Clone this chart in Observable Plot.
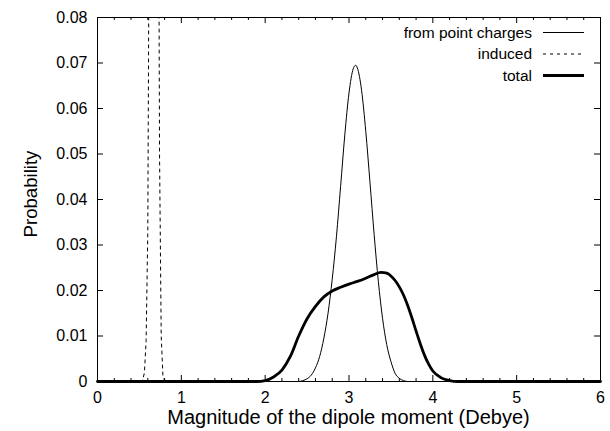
<!DOCTYPE html>
<html>
<head>
<meta charset="utf-8">
<script src="https://cdn.jsdelivr.net/npm/d3@7"></script>
<script src="https://cdn.jsdelivr.net/npm/@observablehq/plot@0.6"></script>
<style>
html, body { margin: 0; padding: 0; background: #fff; }
#chart svg { display: block; }
</style>
</head>
<body>
<div id="chart"></div>
<script>
// ---- data ----
const pointChargeX = [0, 2.30, 2.40, 2.45, 2.50, 2.55, 2.60, 2.65, 2.70, 2.75, 2.80, 2.85, 2.90, 2.95, 3.00, 3.05, 3.08, 3.10, 3.15, 3.20, 3.25, 3.30, 3.35, 3.40, 3.45, 3.50, 3.55, 3.60, 3.65, 3.70, 6];
const pointChargeY = [0, 0, 0.0000, 0.0002, 0.0006, 0.0014, 0.0030, 0.0055, 0.0095, 0.0150, 0.0225, 0.0318, 0.0429, 0.0542, 0.0634, 0.0687, 0.0695, 0.0689, 0.0640, 0.0550, 0.0438, 0.0323, 0.0220, 0.0139, 0.0081, 0.0044, 0.0018, 0.0007, 0.0002, 0, 0];

const inducedX = [0, 0.50, 0.54, 0.56, 0.58, 0.60, 0.62, 0.64, 0.66, 0.68, 0.70, 0.72, 0.74, 0.76, 0.78, 0.80, 0.84, 6];
const inducedY = [0, 0, 0.0003, 0.002, 0.009, 0.033, 0.12, 0.29, 0.47, 0.50, 0.35, 0.16, 0.05, 0.01, 0.0014, 0.0001, 0, 0];

const totalX = [0, 1.90, 2.00, 2.10, 2.20, 2.30, 2.40, 2.50, 2.60, 2.70, 2.80, 2.90, 3.00, 3.10, 3.20, 3.30, 3.38, 3.45, 3.50, 3.55, 3.60, 3.65, 3.70, 3.75, 3.80, 3.85, 3.90, 3.95, 4.00, 4.10, 4.20, 4.30, 6];
const totalY = [0, 0, 0.0002, 0.0010, 0.0025, 0.0055, 0.0100, 0.0138, 0.0165, 0.0186, 0.0199, 0.0207, 0.0214, 0.0220, 0.0227, 0.0235, 0.0240, 0.0238, 0.0232, 0.0222, 0.0208, 0.0190, 0.0167, 0.0140, 0.0111, 0.0083, 0.0058, 0.0038, 0.0023, 0.0008, 0.0002, 0, 0];

const xTicks = [0, 1, 2, 3, 4, 5, 6];
const xTickLabels = ["0", "1", "2", "3", "4", "5", "6"];
const xMinorTicks = [0.2, 0.4, 0.6, 0.8, 1.2, 1.4, 1.6, 1.8, 2.2, 2.4, 2.6, 2.8, 3.2, 3.4, 3.6, 3.8, 4.2, 4.4, 4.6, 4.8, 5.2, 5.4, 5.6, 5.8];
const yTicks = [0, 0.01, 0.02, 0.03, 0.04, 0.05, 0.06, 0.07, 0.08];
const yTickLabels = ["0", "0.01", "0.02", "0.03", "0.04", "0.05", "0.06", "0.07", "0.08"];

const seriesNames = ["from point charges", "induced", "total"];
const xTitle = "Magnitude of the dipole moment (Debye)";
const yTitle = "Probability";

// ---- build tables ----
const toRows = (xs, ys) => xs.map((x, i) => ({x, y: ys[i]}));
const pointRows = toRows(pointChargeX, pointChargeY);
const inducedRows = toRows(inducedX, inducedY);
const totalRows = toRows(totalX, totalY);

const font = "'Liberation Sans', Arial, Helvetica, sans-serif";
const W = 610, H = 431, ML = 97, MR = 10, MT = 17, MB = 50;
const frameW = W - ML - MR, frameH = H - MT - MB;
const major = 6, minor = 3;

const plot = Plot.plot({
  width: W,
  height: H,
  marginLeft: ML,
  marginRight: MR,
  marginTop: MT,
  marginBottom: MB,
  style: {fontFamily: font, fontSize: "16px", color: "black", background: "white", overflow: "visible"},
  x: {domain: [0, 6]},
  y: {domain: [0, 0.08]},
  marks: [
    // tick labels
    Plot.axisX({ticks: xTicks, tickSize: 0, tickPadding: 10, tickFormat: (d) => xTickLabels[xTicks.indexOf(d)], label: null, fontSize: 16}),
    Plot.axisY({ticks: yTicks, tickSize: 0, tickPadding: 10, tickFormat: (d) => yTickLabels[yTicks.indexOf(d)], label: null, fontSize: 16}),
    // inward ticks on all four sides
    Plot.tickX(xTicks, {x: d => d, stroke: "black", strokeWidth: 1, insetTop: frameH - major}),
    Plot.tickX(xMinorTicks, {x: d => d, stroke: "black", strokeWidth: 1, insetTop: frameH - minor}),
    Plot.tickX(xTicks, {x: d => d, stroke: "black", strokeWidth: 1, insetBottom: frameH - major}),
    Plot.tickX(xMinorTicks, {x: d => d, stroke: "black", strokeWidth: 1, insetBottom: frameH - minor}),
    Plot.tickY(yTicks, {y: d => d, stroke: "black", strokeWidth: 1, insetRight: frameW - major}),
    Plot.tickY(yTicks, {y: d => d, stroke: "black", strokeWidth: 1, insetLeft: frameW - major}),
    // data
    Plot.line(inducedRows, {x: "x", y: "y", stroke: "black", strokeWidth: 1, strokeDasharray: "3,4", curve: "linear", clip: true}),
    Plot.line(pointRows, {x: "x", y: "y", stroke: "black", strokeWidth: 1, curve: "monotone-x"}),
    Plot.line(totalRows, {x: "x", y: "y", stroke: "black", strokeWidth: 2.8, curve: "monotone-x"}),
    Plot.frame({stroke: "black", strokeWidth: 1})
  ]
});

document.getElementById("chart").appendChild(plot);

// ---- titles and key (pixel layout) ----
const svg = d3.select(plot);
svg.append("text")
  .attr("x", 348.5).attr("y", 424)
  .attr("text-anchor", "middle")
  .style("font-family", font).style("font-size", "20px").attr("fill", "black")
  .text(xTitle);
svg.append("text")
  .attr("transform", "translate(37,194) rotate(-90)")
  .attr("text-anchor", "middle")
  .style("font-family", font).style("font-size", "18.6px").attr("fill", "black")
  .text(yTitle);

const keyStyles = [
  {width: 1, dash: null},
  {width: 1, dash: "3,4"},
  {width: 2.8, dash: null}
];
const key = svg.append("g");
seriesNames.forEach((name, i) => {
  const yy = 32.5 + i * 21.5;
  key.append("text")
    .attr("x", 532).attr("y", yy).attr("dy", "0.35em")
    .attr("text-anchor", "end")
    .style("font-family", font).style("font-size", "15.5px").attr("fill", "black")
    .text(name);
  const ln = key.append("line")
    .attr("x1", 543).attr("x2", 584).attr("y1", yy).attr("y2", yy)
    .attr("stroke", "black").attr("stroke-width", keyStyles[i].width);
  if (keyStyles[i].dash) ln.attr("stroke-dasharray", keyStyles[i].dash);
});
</script>
</body>
</html>
